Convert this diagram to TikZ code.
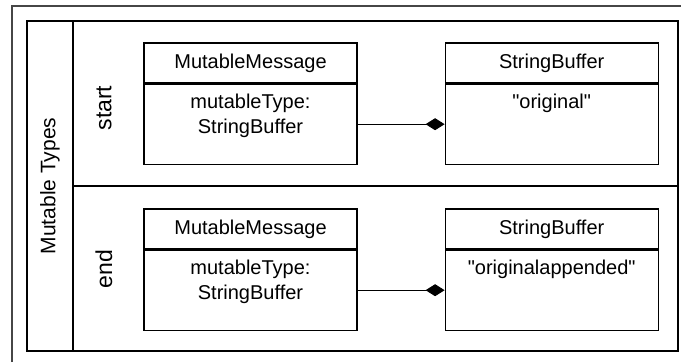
\documentclass[tikz,border=0pt]{standalone}
\usepackage{fontspec}
\setmainfont{Liberation Sans}
\usetikzlibrary{arrows.meta, positioning}
\definecolor{frame_gray}{RGB}{70, 70, 70}

\begin{document}
\begin{tikzpicture}[
    x=1pt, y=-1pt,
    % Node styles
    classhead/.style={
        rectangle,
        draw,
        line width=1.2pt,
        minimum width=213pt,
        minimum height=40pt,
        inner sep=0pt,
        font=\fontsize{20}{25}\selectfont
    },
    classbody/.style={
        rectangle,
        draw,
        line width=1.2pt,
        minimum width=213pt,
        minimum height=80pt,
        inner sep=0pt
    },
    bodytext/.style={
        anchor=north,
        align=center,
        inner sep=0pt,
        font=\fontsize{20}{25}\selectfont
    },
    lanelabel/.style={
        rotate=90,
        inner sep=0pt,
        font=\fontsize{#1}{25}\selectfont
    },
    composition/.style={
        -{Diamond[length=19pt, width=12pt]},
        line width=1pt
    }
]
\useasboundingbox (0,0) rectangle (681,362);

% Frames
\draw[frame_gray, line width=1.5pt] (12,362) |- (681,6);
\draw[line width=1.5pt] (27,21) rectangle (678,351);
\draw[line width=1.5pt] (73,21) -- (73,351);
\draw[line width=2pt] (73,186) -- (678,186);

% Lane labels
\node[lanelabel=21] (lanes) at (50,186) {Mutable Types};
\node[lanelabel=23] (start) at (104,108) {start};
\node[lanelabel=23] (end) at (104,269) {end};

% Position nodes
\node[classhead] (mmstart) at (250.5,63) {MutableMessage};
\node[classbody, below=0pt of mmstart] (mmstartbody) {};
\node[classhead, right=87pt of mmstart] (sbstart) {StringBuffer};
\node[classbody, below=0pt of sbstart] (sbstartbody) {};

\node[classhead] (mmend) at (250.5,229) {MutableMessage};
\node[classbody, below=0pt of mmend] (mmendbody) {};
\node[classhead, right=87pt of mmend] (sbend) {StringBuffer};
\node[classbody, below=0pt of sbend] (sbendbody) {};

% Compartment texts
\node[bodytext] (mmstarttext) at ([yshift=-10pt]mmstartbody.north) {mutableType:\\StringBuffer};
\node[bodytext] (sbstarttext) at ([yshift=-10pt]sbstartbody.north) {\textquotedbl original\textquotedbl};
\node[bodytext] (mmendtext) at ([yshift=-10pt]mmendbody.north) {mutableType:\\StringBuffer};
\node[bodytext] (sbendtext) at ([yshift=-10pt]sbendbody.north) {\textquotedbl originalappended\textquotedbl};

\draw[composition] (mmstartbody.east) -- (sbstartbody.west);
\draw[composition] (mmendbody.east) -- (sbendbody.west);

\end{tikzpicture}
\end{document}
